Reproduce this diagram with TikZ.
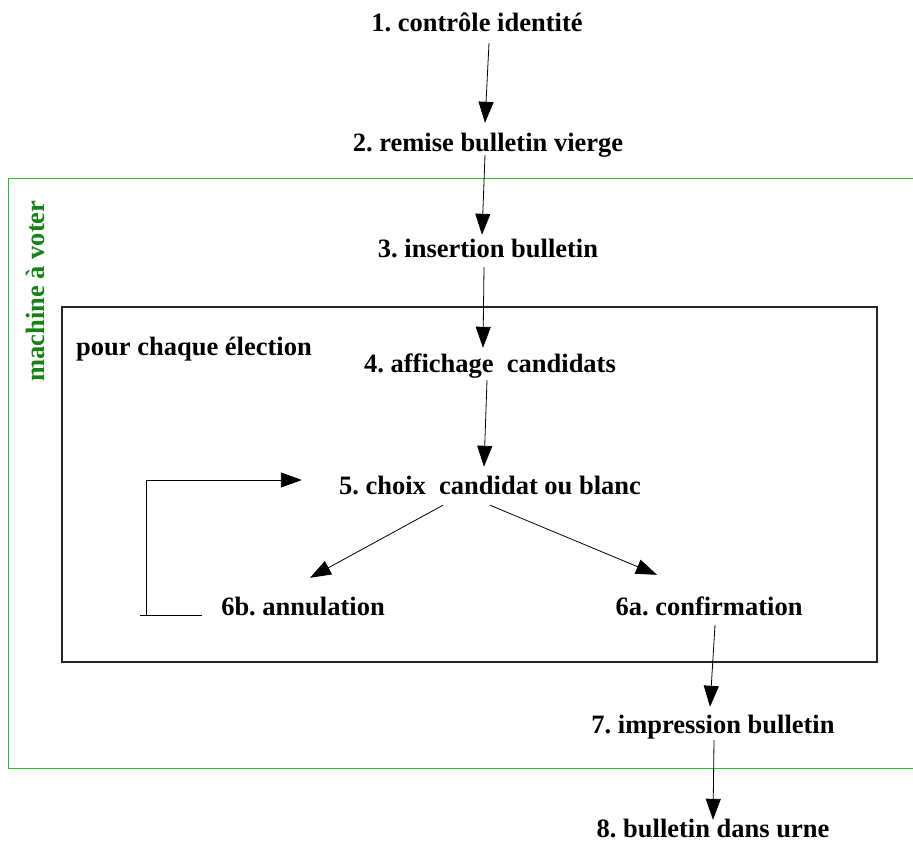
\documentclass[tikz,border=0pt]{standalone}
\usepackage{fontspec}
\setmainfont{Liberation Serif}
\usetikzlibrary{arrows.meta}
\definecolor{boxgreen}{RGB}{50,185,50}
\definecolor{txtgreen}{RGB}{20,130,20}
\frenchspacing
\begin{document}
\begin{tikzpicture}[x=1pt,y=-1pt,
  lbl/.style={font=\fontsize{26.5}{30}\selectfont\bfseries\frenchspacing, inner sep=0pt, anchor=base,
              text height=19pt, text depth=6pt},
  arr/.style={-{Triangle[length=21pt,width=15pt]}, line width=0.8pt, black},
  plain/.style={line width=0.8pt, black}]
\useasboundingbox (0,0) rectangle (913,843);
\fill[white] (0,0) rectangle (913,843);
% containers
\draw[boxgreen, line width=1pt] (913,178) -- (8,178) -- (8,768) -- (913,768);
\draw[line width=1.1pt, black!85] (62,307) rectangle (877,662);
\node[lbl, rotate=90, text=txtgreen] (mav) at (44,291) {machine à voter};
\node[lbl] (pce) at (194,355) {pour chaque élection};
% steps
\node[lbl] (n1) at (477,32) {1. contrôle identité};
\node[lbl] (n2) at (488,151) {2. remise bulletin vierge};
\node[lbl] (n3) at (488,257) {3. insertion bulletin};
\node[lbl] (n4) at (490,372) {4. affichage~ candidats};
\node[lbl] (n5) at (490,494) {5. choix~ candidat ou blanc};
\node[lbl] (n6b) at (303,615) {6b. annulation};
\node[lbl] (n6a) at (709,615) {6a. confirmation};
\node[lbl] (n7) at (713,733) {7. impression bulletin};
\node[lbl] (n8) at (713,837) {8. bulletin dans urne};
% connectors
\draw[arr] ([xshift=12pt,yshift=-5pt]n1.south) -- ([xshift=-3pt,yshift=9pt]n2.north);
\draw[arr] ([xshift=-3pt,yshift=2pt]n2.south) -- ([xshift=-6pt,yshift=3pt]n3.north);
\draw[arr] ([xshift=-4pt,yshift=-4pt]n3.south) -- ([xshift=-7pt,yshift=5pt]n4.north);
\draw[arr] ([xshift=-3pt,yshift=-2pt]n4.south) -- ([xshift=-6pt,yshift=8pt]n5.north);
\draw[arr] ([xshift=-47pt,yshift=-5pt]n5.south) -- ([xshift=7pt,yshift=18pt]n6b.north);
\draw[arr] ([xshift=0pt,yshift=-5pt]n5.south) -- ([xshift=-52pt,yshift=21pt]n6a.north);
\draw[arr] ([xshift=6pt,yshift=-4pt]n6a.south) -- ([xshift=-3pt,yshift=7pt]n7.north);
\draw[arr] ([xshift=1pt,yshift=-1pt]n7.south) -- ([xshift=0pt,yshift=-2pt]n8.north);
% loop back from 6b to 5
\coordinate (lb1) at (140,615);
\coordinate (lb2) at (202,615);
\coordinate (lb3) at (146,615);
\coordinate (lb4) at (146,480);
\draw[plain] (lb1) -- (lb2);
\draw[arr] (lb3) -- (lb4) -- ([xshift=-37pt,yshift=7.5pt]n5.west);
\end{tikzpicture}
\end{document}
